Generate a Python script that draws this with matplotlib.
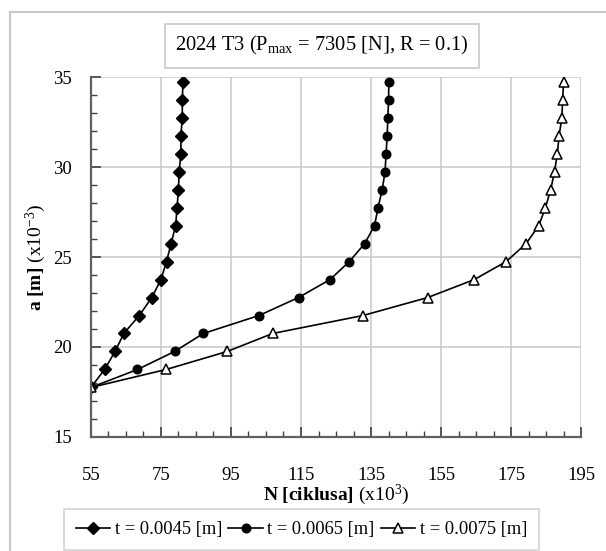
import matplotlib.pyplot as plt
from matplotlib.patches import Rectangle

plt.rcParams['font.family'] = ['Liberation Serif', 'DejaVu Serif']
plt.rcParams['mathtext.fontset'] = 'custom'
plt.rcParams['mathtext.rm'] = 'Liberation Serif'
plt.rcParams['mathtext.bf'] = 'Liberation Serif:bold'
plt.rcParams['mathtext.it'] = 'Liberation Serif:italic'

# Data (N in 10^3 cycles, a in 10^-3 m)
a_vals = [17.75, 18.75, 19.75, 20.75, 21.75, 22.75, 23.75, 24.75, 25.75,
          26.75, 27.75, 28.75, 29.75, 30.75, 31.75, 32.75, 33.75, 34.75]
n_t0045 = [55, 58.9, 61.9, 64.4, 68.8, 72.4, 75.0, 76.6, 77.9,
           79.2, 79.6, 80.0, 80.2, 80.7, 80.7, 81.1, 81.1, 81.3]
n_t0065 = [55, 68.3, 78.9, 87.1, 103.0, 114.3, 123.3, 128.8, 133.2,
           136.0, 137.0, 138.2, 139.0, 139.3, 139.6, 139.8, 140.0, 140.1]
n_t0075 = [55, 76.5, 93.9, 106.9, 132.7, 151.2, 164.5, 173.6, 179.3,
           182.9, 184.8, 186.3, 187.4, 188.2, 188.7, 189.5, 189.7, 190.0]
labels = ['t = 0.0045 [m]', 't = 0.0065 [m]', 't = 0.0075 [m]']

fig = plt.figure(figsize=(6.06, 5.51), dpi=100)
ax = fig.add_axes([0.150, 0.207, 0.809, 0.653])

# outer chart frame
fig.patches.append(Rectangle((10 / 606, -0.05), 1.2, 1 - 12 / 551 + 0.05,
                             transform=fig.transFigure, fill=False,
                             edgecolor='#c8c8c8', lw=1.5))

ax.plot(n_t0045, a_vals, color='black', lw=1.2, marker='D', ms=6,
        mfc='black', mec='black', label=labels[0])
ax.plot(n_t0065, a_vals, color='black', lw=1.2, marker='o', ms=6.2,
        mfc='black', mec='black', label=labels[1])
ax.plot(n_t0075, a_vals, color='black', lw=1.2, marker='^', ms=6.5,
        mfc='white', mec='black', mew=1.1, label=labels[2])

ax.set_xlim(55, 195)
ax.set_ylim(15, 35)
ax.set_xticks(range(55, 196, 20))
ax.set_yticks(range(15, 36, 5))
ax.set_xticks(range(55, 196, 5), minor=True)
ax.set_yticks(range(15, 36, 1), minor=True)
ax.grid(True, which='major', color='#c8c8c8', lw=1.1)
ax.set_axisbelow(True)
for s in ['top', 'right']:
    ax.spines[s].set_visible(False)
for s in ['left', 'bottom']:
    ax.spines[s].set_color('#606060')
    ax.spines[s].set_linewidth(1.6)
ax.tick_params(which='major', direction='in', length=7, width=1.2,
               color='#404040', labelsize=13.5)
ax.tick_params(which='minor', direction='in', length=4, width=1.0,
               color='#404040')
ax.tick_params(axis='x', pad=22)
ax.tick_params(axis='y', pad=13.5)

ax.set_xlabel(r'$\mathbf{N\ [ciklusa]}$ (x10$^{3}$)', fontsize=14, labelpad=-1)
ax.set_ylabel(r'$\mathbf{a\ [m]}$ (x10$^{-3}$)', fontsize=14, labelpad=4)

fig.text(0.531, 0.917, r'2024 T3 (P$_{\mathrm{max}}$ = 7305 [N], R = 0.1)',
         ha='center', va='center', fontsize=14.8,
         bbox=dict(boxstyle='square,pad=0.5', fc='white', ec='#c8c8c8', lw=1.2))

leg = fig.legend(loc='center', bbox_to_anchor=(0.4975, 0.039), ncol=3,
                 fontsize=13.3, frameon=True, fancybox=False, edgecolor='#c8c8c8',
                 handlelength=1.85, handletextpad=0.25, columnspacing=0.35,
                 borderpad=0.65)
leg.get_frame().set_linewidth(1.2)

fig.savefig('out.png', dpi=100)
